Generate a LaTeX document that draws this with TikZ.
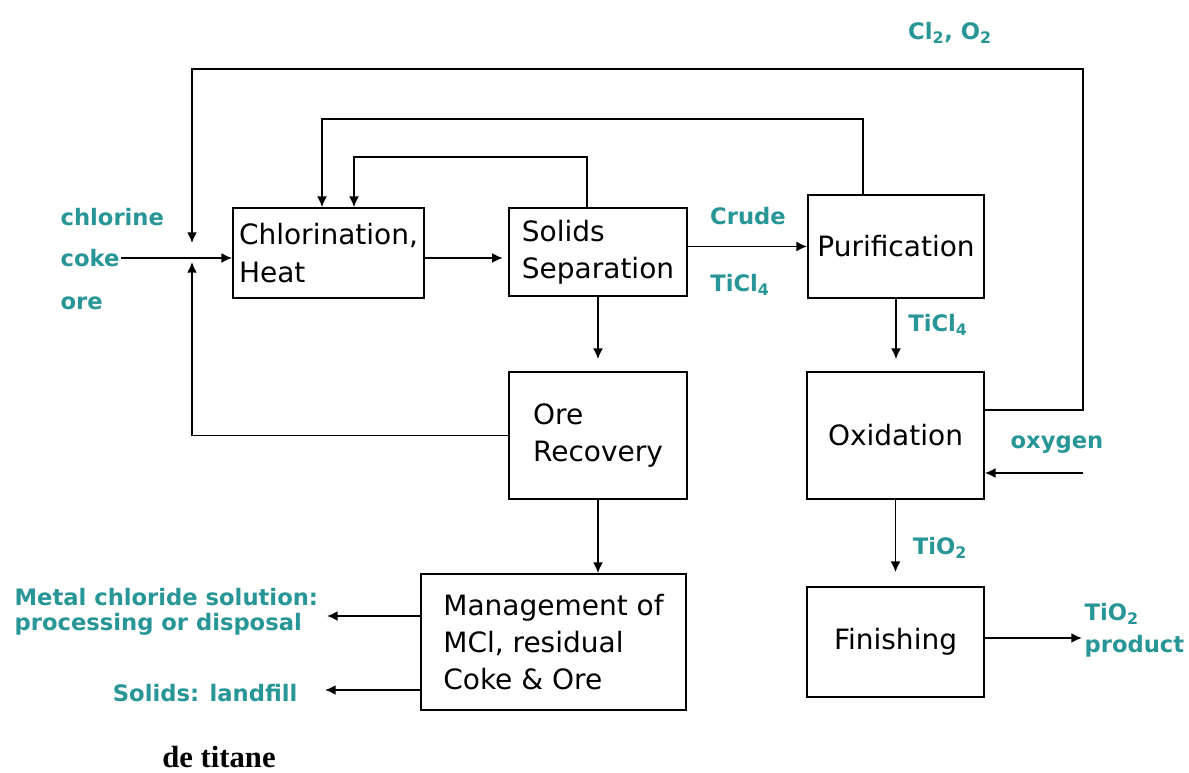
\documentclass[tikz,border=0pt]{standalone}
\usepackage{fontspec}
\setmainfont{DejaVu Sans}
\newfontfamily\titlefont{Liberation Serif}
\usetikzlibrary{arrows.meta, positioning, calc}
\definecolor{streamteal}{RGB}{40,150,150}

\begin{document}
\begin{tikzpicture}[x=0.75pt, y=-0.75pt,
    % Styles
    unit/.style={rectangle, draw, line width=1.3pt, inner sep=0pt, align=left, font=\fontsize{21}{28}\selectfont},
    stream/.style={text=streamteal, font=\fontsize{17}{19}\selectfont\bfseries, inner sep=1pt, align=left},
    arrow/.style={-{Latex[length=8pt, width=7.5pt]}, line width=1.4pt},
]
\useasboundingbox (0,0) rectangle (1189,773);

% === Feed labels ===
\node[stream, anchor=west] (chlorine) at (59,217) {chlorine};
\node[stream, anchor=west] (coke) at (59,258) {coke};
\node[stream, anchor=west] (ore) at (59,303) {ore};

% === Process units ===
\node[unit, minimum width=143.25pt, minimum height=67.5pt] (chlor) at (328.5,253) {Chlorination,\\Heat};
\node[unit, minimum width=133.5pt, minimum height=66pt] (sep) at (598,252) {Solids\\Separation};
\node[unit, minimum width=132pt, minimum height=77.25pt] (purif) at (896,246.5) {Purification};
\node[unit, minimum width=133.5pt, minimum height=95.25pt] (orerec) at (598,435.5) {Ore\\Recovery};
\node[unit, minimum width=132.75pt, minimum height=95.25pt] (oxid) at (895.5,435.5) {Oxidation};
\node[unit, minimum width=198.75pt, minimum height=102pt] (mgmt) at (553.5,642) {Management of\\MCl, residual\\Coke \& Ore};
\node[unit, minimum width=132.75pt, minimum height=82.5pt] (finish) at (895.5,642) {Finishing};

% Turning points and free ends
\coordinate (clturn) at (1083,410);
\coordinate (cltop) at (192,69);
\coordinate (cltip) at (192,243);
\coordinate (recyctip) at (192,262);
\coordinate (purloop) at (863,119);
\coordinate (seploop) at (587,157);
\coordinate (inA) at (322,0);
\coordinate (inB) at (354,0);
\coordinate (oxin) at (1083,473);
\coordinate (prodtip) at (1082,638);
\coordinate (mcltip) at (327,616);
\coordinate (landtip) at (325,690);

% Main line
\draw[arrow] (coke.east) -- (coke.east -| chlor.west);
\draw[arrow, shorten >=4pt] ([yshift=-3.75pt]chlor.east) -- ([yshift=-3.75pt]chlor.east -| sep.west);
\draw[arrow] (sep.east |- purif.west) -- (purif.west);
\draw[arrow, shorten >=9pt] (sep.south) -- (orerec.north);
\draw[arrow, shorten >=9pt] (purif.south) -- (purif.south |- oxid.north);
\draw[arrow, shorten >=10.5pt] (oxid.south) -- (oxid.south |- finish.north);
\draw[arrow] (orerec.south) -- (orerec.south |- mgmt.north);
\draw[arrow] (finish.east |- prodtip) -- (prodtip);
\draw[arrow] (mgmt.west |- mcltip) -- (mcltip);
\draw[arrow] (mgmt.west |- landtip) -- (landtip);
\draw[arrow] (oxin) -- (oxin -| oxid.east);

% Recycle loops
\draw[arrow] (oxid.east |- clturn) -- (clturn) |- (cltop) -- (cltip);
\draw[arrow] (orerec.west) -| (recyctip);
\draw[arrow] (purloop |- purif.north) -- (purloop) -| (inA |- chlor.north);
\draw[arrow] (seploop |- sep.north) -- (seploop) -| (inB |- chlor.north);

% Stream labels
\node[stream] (crude) at (748,216) {Crude};
\node[stream] (crudeticl) at (740,285) {TiCl\textsubscript{4}};
\node[stream] (purticl) at (938,325) {TiCl\textsubscript{4}};
\node[stream] (cloo) at (950,33) {Cl\textsubscript{2}, O\textsubscript{2}};
\node[stream] (oxygen) at (1057,445) {oxygen};
\node[stream] (oxtio) at (940,548) {TiO\textsubscript{2}};
\node[stream, anchor=west] (product) at (1083,630) {TiO\textsubscript{2}\\[5pt]product};
\node[stream, anchor=west] (mcl) at (13,612) {Metal chloride solution:\\processing or disposal};
\node[stream, anchor=east] (landfill) at (299,693) {Solids: landfill};
\node[font=\fontsize{23}{28}\selectfont\titlefont\bfseries] (title) at (219,757) {de titane};

\end{tikzpicture}
\end{document}
